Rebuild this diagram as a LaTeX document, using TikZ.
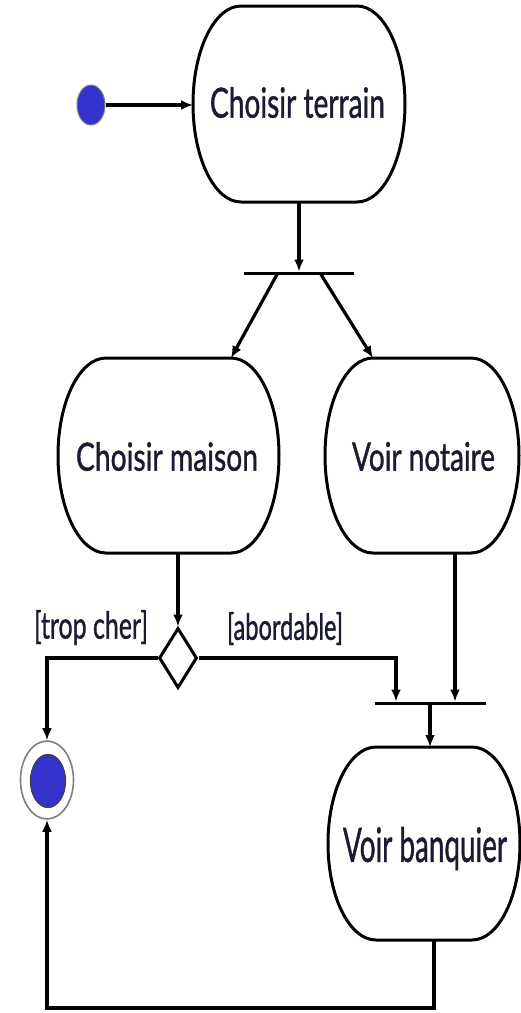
\documentclass[tikz,border=0pt]{standalone}
\usepackage{fontspec}
\setmainfont{Lato}
\newfontfamily\labelfont{Lato}[FakeBold=1.2]
\usepackage{graphicx}
\usetikzlibrary{arrows.meta,shapes.geometric}

\definecolor{dotblue}{RGB}{51,51,204}
\definecolor{ink}{RGB}{26,26,50}

\tikzset{
  flow/.style={line width=3.2pt, -{Latex[length=12pt,width=10pt]}},
  outline/.style={line width=3pt, line join=round},
  area/.style={inner sep=0pt, outer sep=0pt},
  syncbar/.style={fill=black, inner sep=0pt, outer sep=0pt, minimum height=3pt},
  caption/.style={inner sep=0pt, outer sep=0pt, anchor=north west, text=ink, font=\labelfont},
  choice/.style={diamond, draw, line width=3pt, fill=white, inner sep=0pt,
                 minimum width=38pt, minimum height=60pt},
}

% activity: name, centre x, centre y, width, height
\newcommand\activity[5]{%
  \node[area, minimum width=#4pt, minimum height=#5pt] (#1) at (#2,#3) {};
  \draw[outline] ([xshift=48pt]#1.north west) -- ([xshift=-48pt]#1.north east)
     arc[start angle=90, end angle=-90, x radius=48pt, y radius=#5pt/2]
     -- ([xshift=48pt]#1.south west)
     arc[start angle=270, end angle=90, x radius=48pt, y radius=#5pt/2] -- cycle;}

\begin{document}
\begin{tikzpicture}[x=1pt, y=-1pt]
\useasboundingbox (0,0) rectangle (521,1013);

% activities
\activity{terrain}{299}{104}{212}{196}
\activity{maison}{168.5}{455.5}{221}{195}
\activity{notaire}{422}{455.5}{194}{195}
\activity{banquier}{424}{843.5}{192}{193}

% activity texts
\node[caption] (terrain-t)  at (210,87)  {\resizebox*{175pt}{31pt}{Choisir terrain}};
\node[caption] (maison-t)   at (76,442)  {\resizebox*{182pt}{29pt}{Choisir maison}};
\node[caption] (notaire-t)  at (352,442) {\resizebox*{143pt}{29pt}{Voir notaire}};
\node[caption] (banquier-t) at (343,827) {\resizebox*{164pt}{43pt}{Voir banquier}};

% start and end states
\node[ellipse, fill=dotblue, draw=gray, line width=1pt,
      minimum width=28pt, minimum height=40pt, inner sep=0pt] (start) at (91,105) {};
\node[ellipse, draw=gray, line width=1.6pt, fill=white,
      minimum width=53pt, minimum height=78pt, inner sep=0pt] (final) at (47,780) {};
\node[ellipse, fill=dotblue, draw=darkgray, line width=1.2pt,
      minimum width=35pt, minimum height=53pt, inner sep=0pt] (final-core) at (48,781) {};

% fork / join bars
\node[syncbar, minimum width=110pt] (fork) at (299,273) {};
\node[syncbar, minimum width=111pt] (join) at (430,703) {};

% decision
\node[choice] (dec) at (178,658) {};

% guards
\node[caption] (guard-l) at (34,610)  {\resizebox*{114pt}{35pt}{[trop cher]}};
\node[caption] (guard-r) at (227,612) {\resizebox*{116pt}{33pt}{[abordable]}};

% flows
\draw[flow] (start.east) -- (start.east -| terrain.west);
\draw[flow] (terrain.south) -- (terrain.south |- fork.north);
\draw[flow] ([xshift=-22pt]fork.south) -- ([xshift=-48pt]maison.north east);
\draw[flow] ([xshift=22pt]fork.south) -- ([xshift=48pt]notaire.north west);
\draw[flow] (maison.south -| dec.north) -- (dec.north);

\coordinate (join-l) at ([xshift=-34pt]join.north);
\coordinate (join-r) at ([xshift=25pt]join.north);
\draw[flow] (dec.east) -| (join-l);
\draw[flow] (notaire.south -| join-r) -- (join-r);
\draw[flow] (dec.west) -| (final.north);
\draw[flow] (join.south) -- (join.south |- banquier.north);
\draw[flow] ([xshift=10pt]banquier.south) -- ++(0,68) -| (final.south);
\end{tikzpicture}
\end{document}
